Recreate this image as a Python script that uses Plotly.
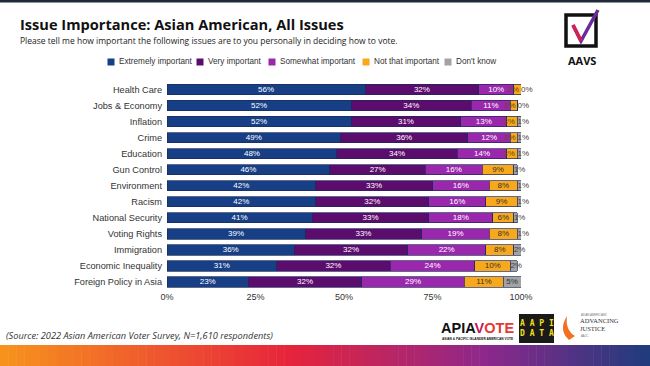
import plotly.graph_objects as go

categories = ["Health Care", "Jobs & Economy", "Inflation", "Crime", "Education",
              "Gun Control", "Environment", "Racism", "National Security",
              "Voting Rights", "Immigration", "Economic Inequality", "Foreign Policy in Asia"]
extremely = [56, 52, 52, 49, 48, 46, 42, 42, 41, 39, 36, 31, 23]
very = [32, 34, 31, 36, 34, 27, 33, 32, 33, 33, 32, 32, 32]
somewhat = [10, 11, 13, 12, 14, 16, 16, 16, 18, 19, 22, 24, 29]
not_that = [2, 2, 3, 2, 3, 9, 8, 9, 6, 8, 8, 10, 11]
dont_know = [0, 0, 1, 1, 1, 1, 1, 1, 1, 1, 2, 2, 5]
tick_vals = [0, 25, 50, 75, 100]
tick_text = ["0%", "25%", "50%", "75%", "100%"]

series = [
    ("Extremely important", extremely, "#173f85", "white"),
    ("Very important", very, "#5c0c6c", "white"),
    ("Somewhat important", somewhat, "#9b27ad", "white"),
    ("Not that important", not_that, "#f9a81b", "#333333"),
    ("Don't know", dont_know, "#a3a3a3", "#333333"),
]

L, R, T, B = 167, 129, 79, 76
PW, PH = 650 - L - R, 366 - T - B


def px(xp):
    return (xp - L) / PW


def py(yp):
    return 1 - (yp - T) / PH


SMALL = 4  # segments narrower than this get their label from a text trace

fig = go.Figure()
cum = [0] * len(categories)
sm = {"left": ([], [], [], []), "right": ([], [], [], [])}
for si, (name, vals, color, tcol) in enumerate(series):
    texts = []
    for k, v in enumerate(vals):
        if v < SMALL:
            texts.append("")
            if si == len(series) - 1:
                side, xpos = "right", cum[k]
            else:
                side, xpos = "left", cum[k] + v * 0.75
            xs, ys, ts, cs = sm[side]
            xs.append(xpos)
            ys.append(categories[k])
            ts.append(f"{v}%")
            cs.append("#444444" if si == len(series) - 1 else "#6b4a10")
        else:
            texts.append(f"{v}%")
        cum[k] += v
    fig.add_trace(go.Bar(
        y=categories, x=vals, name=name, orientation="h", showlegend=False,
        marker=dict(color=color, line=dict(color="#1d2b5c", width=0.7)),
        text=texts, textposition="inside", insidetextanchor="middle",
        textfont=dict(size=8, color=tcol, family="Liberation Sans"),
    ))

for side, (xs, ys, ts, cs) in sm.items():
    fig.add_trace(go.Scatter(
        x=xs, y=ys, mode="text", text=ts, showlegend=False,
        textposition="middle " + side, cliponaxis=False,
        textfont=dict(size=8, color=cs, family="Liberation Sans"),
    ))

fig.update_layout(
    barmode="stack", bargap=0.36,
    width=650, height=366,
    margin=dict(l=L, r=R, t=T, b=B, autoexpand=False),
    paper_bgcolor="white", plot_bgcolor="white",
    font=dict(family="Liberation Sans", color="#333333"),
    uniformtext=dict(minsize=8, mode="show"),
    showlegend=False,
    xaxis=dict(range=[0, 100], tickvals=tick_vals, ticktext=tick_text,
               showgrid=False, zeroline=False, showline=False,
               tickfont=dict(size=9, color="#333333"), fixedrange=True),
    yaxis=dict(autorange="reversed", showgrid=False, showline=False,
               tickfont=dict(size=9.2, color="#333333"), ticks="", ticklabelstandoff=4),
)

ann = []
legend_x = [111, 200, 272, 366, 448]
legend_y = 62
shapes = []
for (name, vals, color, tcol), lx in zip(series, legend_x):
    shapes.append(dict(type="rect", xref="paper", yref="paper",
                       x0=px(lx - 3.5), x1=px(lx + 3.5), y0=py(legend_y + 3.5), y1=py(legend_y - 3.5),
                       fillcolor=color, line=dict(width=0)))
    ann.append(dict(text=name, xref="paper", yref="paper", x=px(lx + 6), y=py(legend_y),
                    xanchor="left", yanchor="middle", showarrow=False,
                    font=dict(family="Liberation Sans", size=8.2, color="#333333")))

ann.append(dict(text="<b>Issue Importance: Asian American, All Issues</b>",
                xref="paper", yref="paper", x=px(18), y=py(24),
                xanchor="left", yanchor="middle", showarrow=False,
                font=dict(family="Open Sans", size=14.6, color="#111111")))
ann.append(dict(text="Please tell me how important the following issues are to you personally in deciding how to vote.",
                xref="paper", yref="paper", x=px(18), y=py(41),
                xanchor="left", yanchor="middle", showarrow=False,
                font=dict(family="Open Sans", size=8.5, color="#222222")))
ann.append(dict(text="<i>(Source: 2022 Asian American Voter Survey, N=1,610 respondents)</i>",
                xref="paper", yref="paper", x=px(4), y=py(335),
                xanchor="left", yanchor="middle", showarrow=False,
                font=dict(family="Open Sans", size=9.2, color="#333333")))
ann.append(dict(text="<b>AAVS</b>", xref="paper", yref="paper", x=px(582), y=py(60),
                xanchor="center", yanchor="middle", showarrow=False,
                font=dict(family="Open Sans", size=11, color="#111111")))
ann.append(dict(text="<b>APIA<span style='color:#c2185b'>V</span><span style='color:#e53935'>OTE</span></b>",
                xref="paper", yref="paper", x=px(477), y=py(328),
                xanchor="center", yanchor="middle", showarrow=False,
                font=dict(family="Liberation Sans", size=14.5, color="#111111")))
ann.append(dict(text="<b>ASIAN & PACIFIC ISLANDER AMERICAN VOTE</b>",
                xref="paper", yref="paper", x=px(477), y=py(339),
                xanchor="center", yanchor="middle", showarrow=False,
                font=dict(family="Liberation Sans", size=3.2, color="#111111")))
ann.append(dict(text="<b>A A P I<br>D A T A</b>",
                xref="paper", yref="paper", x=px(536.5), y=py(328),
                xanchor="center", yanchor="middle", showarrow=False,
                font=dict(family="DejaVu Sans Mono", size=8, color="#f5e11a")))
ann.append(dict(text="ADVANCING<br>JUSTICE",
                xref="paper", yref="paper", x=px(578), y=py(324),
                xanchor="left", yanchor="middle", showarrow=False, align="left",
                font=dict(family="Liberation Serif", size=6.5, color="#333333")))
ann.append(dict(text="ASIAN AMERICANS", xref="paper", yref="paper", x=px(579), y=py(315),
                xanchor="left", yanchor="middle", showarrow=False,
                font=dict(family="Liberation Sans", size=2.8, color="#777777")))
ann.append(dict(text="AAJC", xref="paper", yref="paper", x=px(579), y=py(336),
                xanchor="left", yanchor="middle", showarrow=False,
                font=dict(family="Liberation Sans", size=2.8, color="#777777")))
fig.update_layout(annotations=ann)

shapes.append(dict(type="rect", xref="paper", yref="paper", x0=px(0), x1=px(650),
                   y0=py(2.5), y1=py(0), fillcolor="#1f2a3a", line=dict(width=0)))


def lerp(c1, c2, t):
    return tuple(int(round(a + (b - a) * t)) for a, b in zip(c1, c2))


stops = [(0.0, (247, 148, 29)), (0.45, (230, 35, 60)), (0.75, (140, 40, 140)), (1.0, (30, 60, 125))]
n = 80
for i in range(n):
    t = (i + 0.5) / n
    c = stops[-1][1]
    for j in range(len(stops) - 1):
        if stops[j][0] <= t <= stops[j + 1][0]:
            tt = (t - stops[j][0]) / (stops[j + 1][0] - stops[j][0])
            c = lerp(stops[j][1], stops[j + 1][1], tt)
            break
    shapes.append(dict(type="rect", xref="paper", yref="paper",
                       x0=px(650 * i / n), x1=px(650 * (i + 1) / n + 0.5),
                       y0=py(366), y1=py(345),
                       fillcolor="rgb(%d,%d,%d)" % c, line=dict(width=0), layer="above"))

shapes.append(dict(type="rect", xref="paper", yref="paper", x0=px(566), x1=px(596),
                   y0=py(46), y1=py(15), line=dict(color="#111111", width=3.5)))
shapes.append(dict(type="path", xref="paper", yref="paper",
                   path=f"M {px(573)} {py(25)} L {px(581)} {py(41)} L {px(598)} {py(10)}",
                   line=dict(color="#6a2a9a", width=3.5)))
shapes.append(dict(type="path", xref="paper", yref="paper",
                   path=f"M {px(573)} {py(25)} L {px(581)} {py(41)}",
                   line=dict(color="#d62050", width=3.5)))
shapes.append(dict(type="rect", xref="paper", yref="paper", x0=px(519), x1=px(554),
                   y0=py(343), y1=py(314), fillcolor="#1a1a1a", line=dict(width=0), layer="below"))
shapes.append(dict(type="path", xref="paper", yref="paper",
                   path=f"M {px(569)} {py(340)} Q {px(558)} {py(330)} {px(567)} {py(316)} Q {px(565)} {py(330)} {px(575)} {py(336)} Z",
                   fillcolor="#f37021", line=dict(width=0)))
fig.update_layout(shapes=shapes)

fig.write_html("out.html", config={"displayModeBar": False},
               post_script="document.body.style.margin='0';document.body.style.overflow='hidden';")
